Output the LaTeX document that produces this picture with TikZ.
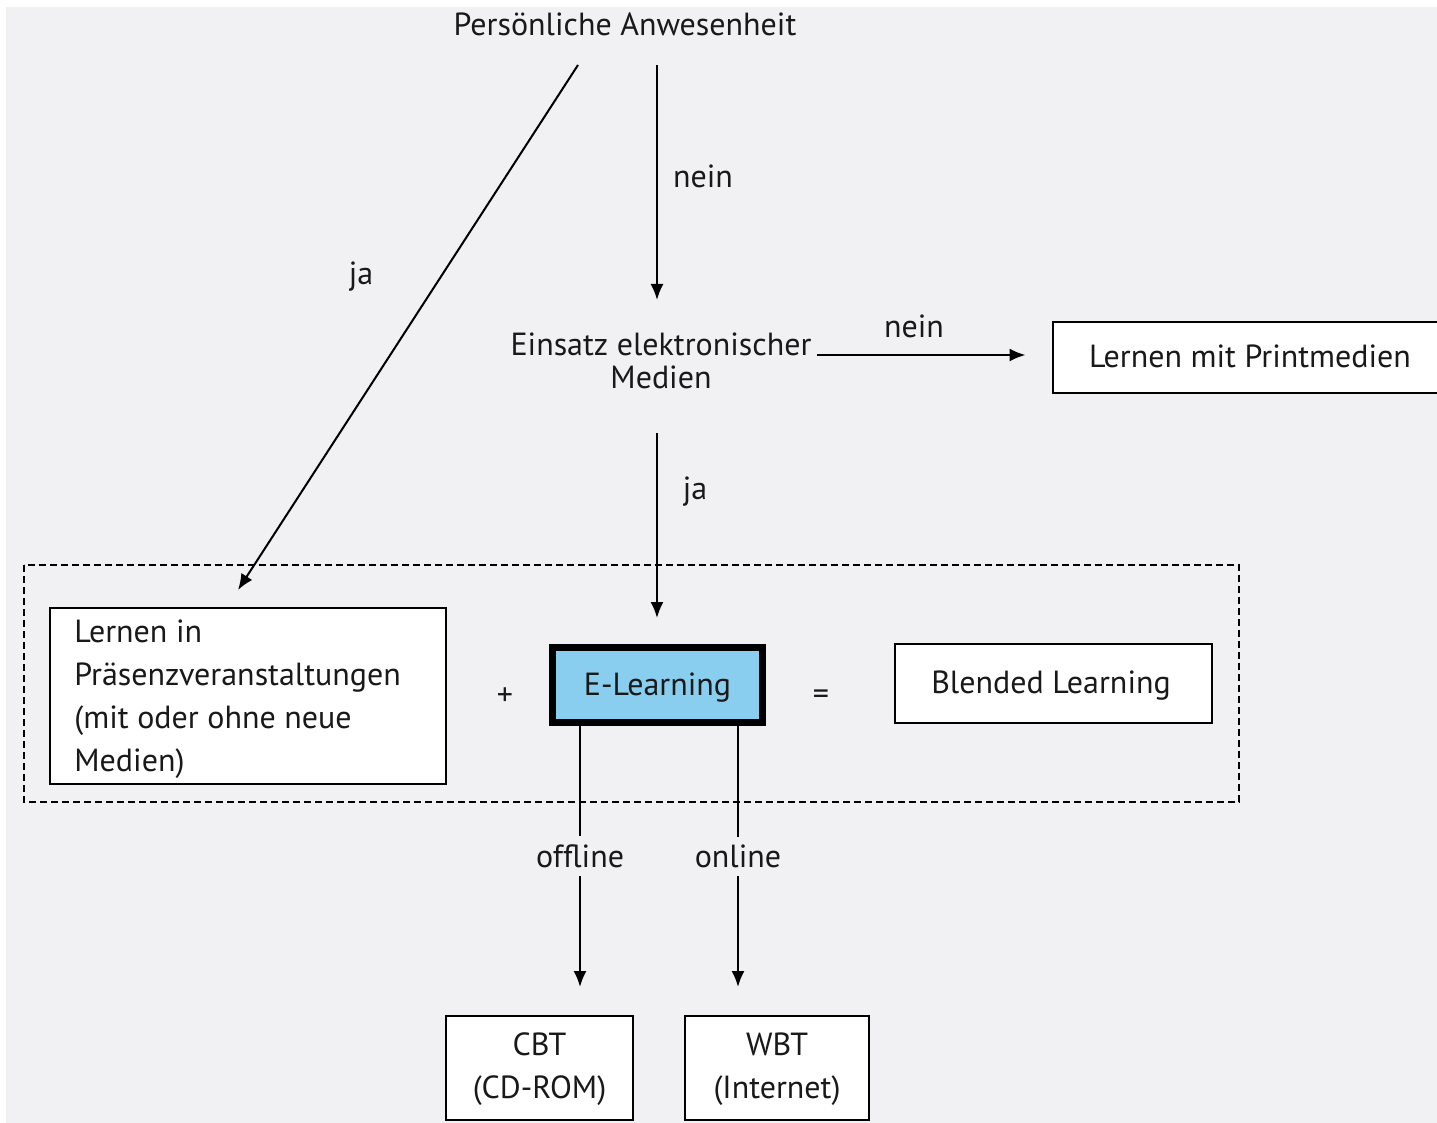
\documentclass[tikz,border=0pt]{standalone}
\usepackage{fontspec}
\setmainfont{PT Sans}
\usetikzlibrary{arrows.meta}
\definecolor{bg}{RGB}{241,241,243}
\definecolor{eblue}{RGB}{137,206,238}
\begin{document}
\begin{tikzpicture}[x=1pt,y=1pt,
  every node/.style={font=\fontsize{16}{21.5}\selectfont, text=black!90},
  txt/.style={inner sep=0pt},
  lbl/.style={inner sep=0pt},
  box/.style={draw, fill=white, line width=1pt, inner sep=0pt},
  arr/.style={line width=1pt, -{Latex[length=8pt,width=6.5pt]}},
  ln/.style={line width=1pt}]
\clip (0,0) rectangle (718.5,-561.5);
\fill[white] (0,0) rectangle (718.5,-561.5);
\fill[bg] (3,-3.5) rectangle (718.5,-561.5);

% top
\node[txt] (pa) at (312.5,-12) {Persönliche Anwesenheit};
\coordinate (jaS) at (289,-32.5);
\coordinate (jaE) at (119,-295);
\coordinate (nS) at (328.5,-32.5);
\coordinate (nE) at (328.5,-150);
\draw[arr] (jaS) -- (jaE);
\node[lbl] (lja) at (180.5,-138.5) {ja};
\draw[arr] (nS) -- (nE);
\node[lbl] (lnein) at (351.5,-88) {nein};

% Einsatz
\node[txt, align=center, font=\fontsize{16}{16.5}\selectfont] (ein) at (330.5,-180.5) {Einsatz elektronischer\\Medien};
\node[box, minimum width=196.5pt, minimum height=35.5pt] (print) at (624.5,-178.75) {};
\node[txt] (printT) at (625,-178) {Lernen mit Printmedien};
\draw[arr, shorten <=2.5pt, shorten >=13pt] (ein.east |- 0,-177.5) -- (print.west |- 0,-177.5);
\node[lbl] (lnein2) at (457,-163) {nein};
\coordinate (j2S) at (328.5,-216.5);
\coordinate (j2E) at (328.5,-309);
\draw[arr] (j2S) -- (j2E);
\node[lbl] (lja2) at (347.5,-246) {ja};

% dashed frame
\draw[line width=0.9pt, dash pattern=on 3.5pt off 2pt] (12,-282.5) rectangle (619.5,-401);

% boxes
\node[box, minimum width=198pt, minimum height=88pt] (lern) at (124,-348) {};
\node[txt, align=left, anchor=north west] (lernT) at (37,-309.5) {Lernen in\\Präsenzveranstaltungen\\(mit oder ohne neue\\Medien)};
\node[lbl] (plus) at (252.5,-348.5) {+};
\node[draw, fill=eblue, line width=3.5pt, inner sep=0pt, minimum width=105pt, minimum height=37.5pt] (el) at (328.75,-342.5) {};
\node[txt] (elT) at (328.75,-344) {E-Learning};
\node[lbl] (eq) at (410.5,-348.5) {=};
\node[box, minimum width=158.5pt, minimum height=39.5pt] (bl) at (526.75,-341.75) {};
\node[txt] (blT) at (525.5,-343) {Blended Learning};

% bottom
\node[box, minimum width=93.5pt, minimum height=52pt] (cbt) at (269.75,-534) {};
\node[txt, align=center] (cbtT) at (269.75,-534.5) {CBT\\(CD-ROM)};
\node[box, minimum width=92pt, minimum height=52pt] (wbt) at (388.5,-534) {};
\node[txt, align=center] (wbtT) at (388.5,-534.5) {WBT\\(Internet)};
\coordinate (offx) at (290,0);
\coordinate (onx) at (369,0);
\draw[arr, shorten >=14pt] (el.south -| offx) -- node[lbl, fill=bg, inner ysep=4pt, pos=0.45] (loff) {offline} (cbt.north -| offx);
\draw[arr, shorten >=14pt] (el.south -| onx) -- node[lbl, fill=bg, inner ysep=4pt, pos=0.45] (lon) {online} (wbt.north -| onx);
\end{tikzpicture}
\end{document}
